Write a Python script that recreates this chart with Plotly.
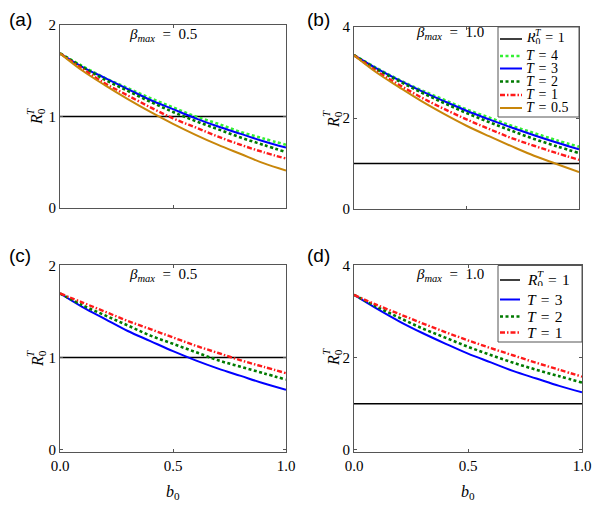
import plotly.graph_objects as go

# ---------------- data ----------------
b0 = [0.0, 0.1, 0.2, 0.3, 0.4, 0.5, 0.6, 0.7, 0.8, 0.9, 1.0]
threshold = 1.0

# panel (a): beta_max = 0.5
a_T4  = [1.69, 1.55, 1.42, 1.31, 1.20, 1.10, 1.00, 0.92, 0.83, 0.76, 0.69]
a_T3  = [1.69, 1.54, 1.42, 1.30, 1.18, 1.08, 0.98, 0.89, 0.81, 0.73, 0.66]
a_T2  = [1.69, 1.54, 1.40, 1.28, 1.16, 1.05, 0.95, 0.86, 0.77, 0.69, 0.61]
a_T1  = [1.69, 1.52, 1.36, 1.23, 1.10, 0.98, 0.88, 0.78, 0.69, 0.61, 0.54]
a_T05 = [1.69, 1.50, 1.34, 1.19, 1.05, 0.92, 0.80, 0.69, 0.59, 0.49, 0.41]

# panel (b): beta_max = 1.0
b_T4  = [3.38, 3.10, 2.84, 2.61, 2.40, 2.19, 2.01, 1.83, 1.67, 1.51, 1.37]
b_T3  = [3.38, 3.09, 2.83, 2.59, 2.37, 2.16, 1.97, 1.79, 1.62, 1.46, 1.31]
b_T2  = [3.38, 3.07, 2.81, 2.56, 2.33, 2.11, 1.91, 1.72, 1.54, 1.38, 1.23]
b_T1  = [3.38, 3.03, 2.73, 2.45, 2.20, 1.97, 1.76, 1.56, 1.39, 1.23, 1.08]
b_T05 = [3.38, 3.00, 2.68, 2.37, 2.09, 1.83, 1.60, 1.38, 1.17, 0.99, 0.81]

# panel (c): beta_max = 0.5
c_T3 = [1.70, 1.55, 1.42, 1.29, 1.18, 1.07, 0.97, 0.88, 0.80, 0.72, 0.65]
c_T2 = [1.70, 1.57, 1.46, 1.35, 1.24, 1.15, 1.06, 0.97, 0.90, 0.83, 0.76]
c_T1 = [1.70, 1.60, 1.50, 1.40, 1.31, 1.22, 1.13, 1.05, 0.97, 0.90, 0.83]

# panel (d): beta_max = 1.0
d_T3 = [3.37, 3.07, 2.79, 2.54, 2.31, 2.09, 1.90, 1.71, 1.55, 1.39, 1.25]
d_T2 = [3.37, 3.11, 2.87, 2.64, 2.44, 2.24, 2.06, 1.89, 1.74, 1.60, 1.46]
d_T1 = [3.37, 3.15, 2.95, 2.75, 2.56, 2.38, 2.21, 2.05, 1.89, 1.74, 1.59]

x_ticks = [0.0, 0.5, 1.0]
x_ticktext = ["0.0", "0.5", "1.0"]
y_ticks_small = [0, 1, 2]
y_ticks_large = [0, 2, 4]

# ---------------- styling ----------------
W, H = 601, 509
SERIF = "Liberation Serif, Times New Roman, serif"
SANS = "Liberation Sans, Arial, sans-serif"
FRAME = "#555555"
EQ_WIDE = "\u2002=\u2002"   # LaTeX-like spacing around '=' (annotations)
EQ = "\u2004=\u2004"        # slightly wider than normal spaces (legend)

styles = {
    "R":   dict(color="black",   dash="solid", width=1.5),
    "4":   dict(color="#33f033", dash="3px,2.5px", width=2.6),
    "3":   dict(color="#0000ff", dash="solid", width=2),
    "2":   dict(color="#007a00", dash="3px,2.5px", width=2.6),
    "1":   dict(color="#ff1a1a", dash="5px,2px,1.5px,2px", width=2.4),
    "0.5": dict(color="#c8860a", dash="solid", width=2),
}

def px_x(p):
    return p / W

def px_y(p):
    return 1 - p / H

panels = [
    dict(key="a", ax="", dom_x=(60, 286), dom_y=(25, 208), yr=[0, 2], yt=y_ticks_small,
         series=[("4", a_T4), ("3", a_T3), ("2", a_T2), ("1", a_T1), ("0.5", a_T05)],
         xlabels=False, beta="0.5", beta_pos=(163, 35),
         lab_pos=(20, 20), ylab_pos=(38, 117)),
    dict(key="b", ax="2", dom_x=(354, 579), dom_y=(27, 209), yr=[0, 4], yt=y_ticks_large,
         series=[("4", b_T4), ("3", b_T3), ("2", b_T2), ("1", b_T1), ("0.5", b_T05)],
         xlabels=False, beta="1.0", beta_pos=(450, 33),
         lab_pos=(318, 20), ylab_pos=(334, 119)),
    dict(key="c", ax="3", dom_x=(60, 286), dom_y=(265, 452), yr=[-0.03, 2.01], yt=y_ticks_small,
         series=[("3", c_T3), ("2", c_T2), ("1", c_T1)],
         xlabels=True, beta="0.5", beta_pos=(163, 275),
         lab_pos=(20, 255), ylab_pos=(38, 359)),
    dict(key="d", ax="4", dom_x=(354, 582), dom_y=(265, 452), yr=[-0.05, 4.02], yt=y_ticks_large,
         series=[("3", d_T3), ("2", d_T2), ("1", d_T1)],
         xlabels=True, beta="1.0", beta_pos=(450, 275),
         lab_pos=(318, 255), ylab_pos=(334, 357)),
]

# hand-built legend boxes (pixel layout)
legends = [
    dict(box=(498, 27, 579, 117), rows=[39, 56, 68.5, 81.5, 95, 108],
         keys=["R", "4", "3", "2", "1", "0.5"], line_x=(500, 522), text_x=525, size=14),
    dict(box=(498, 265.5, 582, 342), rows=[280, 299.5, 316.5, 332.5],
         keys=["R", "3", "2", "1"], line_x=(500, 520), text_x=526, size=15.5),
]

fig = go.Figure()
annotations = []
shapes = []

for p in panels:
    xa, ya = "x" + p["ax"], "y" + p["ax"]
    fig.add_trace(go.Scatter(
        x=[b0[0], b0[-1]], y=[threshold, threshold], xaxis=xa, yaxis=ya,
        mode="lines", line=dict(color="black", width=1.5),
        showlegend=False, hoverinfo="skip"))
    for t, vals in p["series"]:
        st = styles[t]
        fig.add_trace(go.Scatter(
            x=b0, y=vals, xaxis=xa, yaxis=ya, mode="lines",
            line=dict(color=st["color"], dash=st["dash"], width=st["width"], shape="spline"),
            name="T = " + t, showlegend=False))

    axis_common = dict(showline=True, linecolor=FRAME, linewidth=1, mirror="ticks",
                       ticks="inside", ticklen=3, tickcolor=FRAME, showgrid=False,
                       zeroline=False, automargin=False,
                       tickfont=dict(family=SERIF, size=15, color="black"))
    fig.layout["xaxis" + p["ax"]] = dict(
        axis_common, domain=[px_x(p["dom_x"][0]), px_x(p["dom_x"][1])],
        range=[0, 1], tickvals=x_ticks, ticktext=x_ticktext,
        showticklabels=p["xlabels"], anchor=ya)
    fig.layout["yaxis" + p["ax"]] = dict(
        axis_common, domain=[px_y(p["dom_y"][1]), px_y(p["dom_y"][0])],
        range=p["yr"], tickvals=p["yt"], anchor=xa)

    annotations.append(dict(
        text="<i>β</i><sub><i>max</i></sub>" + EQ_WIDE + p["beta"],
        x=px_x(p["beta_pos"][0]), y=px_y(p["beta_pos"][1]), xanchor="center", yanchor="middle",
        font=dict(family=SERIF, size=15, color="black")))
    annotations.append(dict(
        text="(" + p["key"] + ")",
        x=px_x(p["lab_pos"][0]), y=px_y(p["lab_pos"][1]), xanchor="center", yanchor="middle",
        font=dict(family=SANS, size=19, color="black")))
    # y-axis label R_0^T (rotated), superscript stacked over subscript
    lx, ly = p["ylab_pos"]
    annotations.append(dict(
        text="<i>R</i><sub>0</sub>",
        x=px_x(lx), y=px_y(ly), xanchor="center", yanchor="middle",
        textangle=-90, font=dict(family=SERIF, size=16, color="black")))
    annotations.append(dict(
        text="<i>T</i>",
        x=px_x(lx - 8), y=px_y(ly - 5), xanchor="center", yanchor="middle",
        textangle=-90, font=dict(family=SERIF, size=11, color="black")))
    if p["xlabels"]:
        cx = (p["dom_x"][0] + p["dom_x"][1]) / 2
        annotations.append(dict(
            text="<i>b</i><sub>0</sub>",
            x=px_x(cx), y=px_y(492), xanchor="center", yanchor="middle",
            font=dict(family=SERIF, size=16, color="black")))

for lg in legends:
    x0, y0, x1, y1 = lg["box"]
    shapes.append(dict(type="rect", xref="paper", yref="paper",
                       x0=px_x(x0), x1=px_x(x1), y0=px_y(y1), y1=px_y(y0),
                       fillcolor="white", line=dict(color=FRAME, width=1), layer="above"))
    for key, ry in zip(lg["keys"], lg["rows"]):
        st = styles[key]
        shapes.append(dict(type="line", xref="paper", yref="paper",
                           x0=px_x(lg["line_x"][0]), x1=px_x(lg["line_x"][1]),
                           y0=px_y(ry), y1=px_y(ry), layer="above",
                           line=dict(color=st["color"], width=st["width"], dash=st["dash"])))
        if key == "R":
            txt = "<i>R</i><sub>0</sub>" + EQ + "1"
        else:
            txt = "<i>T</i>" + EQ + key
        annotations.append(dict(
            text=txt, x=px_x(lg["text_x"]), y=px_y(ry), xanchor="left", yanchor="middle",
            height=11, borderpad=0, font=dict(family=SERIF, size=lg["size"], color="black")))
        if key == "R":
            annotations.append(dict(
                text="<i>T</i>", x=px_x(lg["text_x"] + lg["size"] * 0.62),
                y=px_y(ry - lg["size"] * 0.45), xanchor="left", yanchor="middle",
                height=7, borderpad=0,
                font=dict(family=SERIF, size=lg["size"] * 0.7, color="black")))

for a in annotations:
    a.update(xref="paper", yref="paper", showarrow=False)

fig.update_layout(
    template="none",
    width=W, height=H, autosize=False,
    margin=dict(l=0, r=0, t=0, b=0, pad=0, autoexpand=False),
    paper_bgcolor="white", plot_bgcolor="white",
    font=dict(family=SERIF, size=15, color="black"),
    showlegend=False,
    annotations=annotations, shapes=shapes,
)
fig.write_html("out.html", config={"displayModeBar": False},
               post_script="document.body.style.margin='0px';document.body.style.overflow='hidden';")
